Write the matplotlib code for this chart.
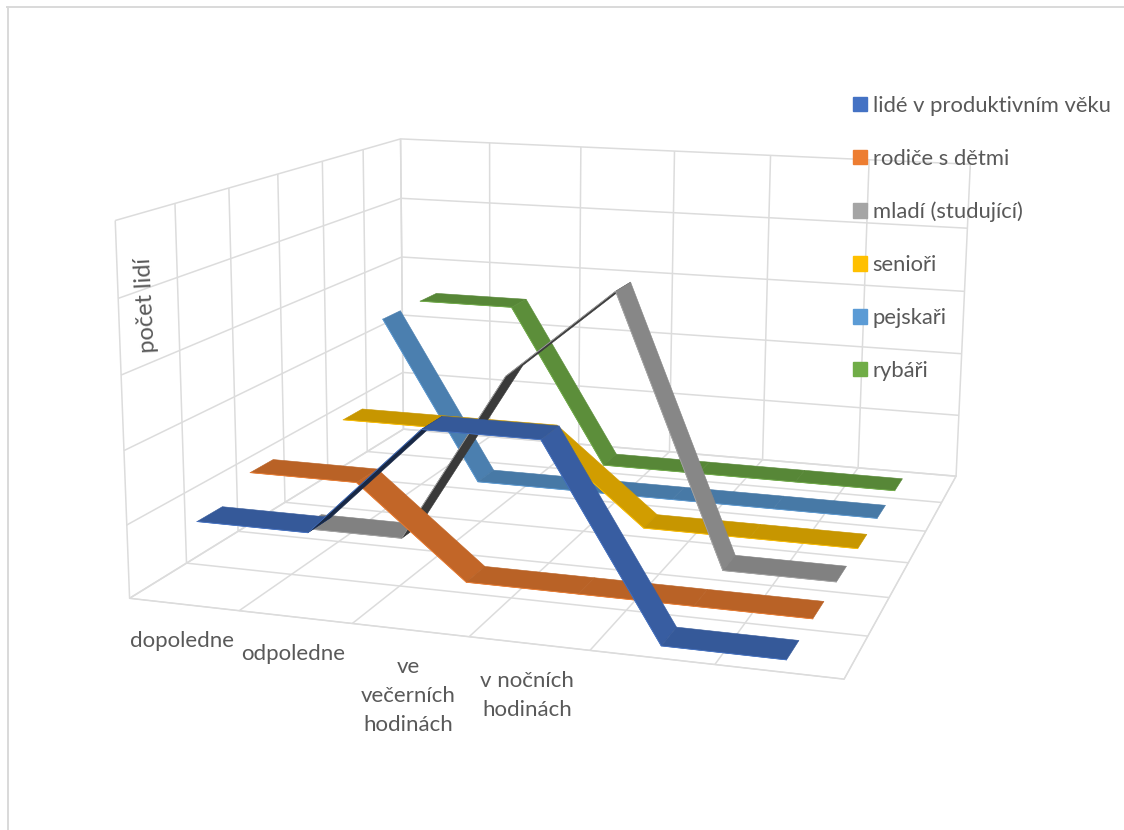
import numpy as np
import matplotlib
matplotlib.use('Agg')
import matplotlib.pyplot as plt
from matplotlib.lines import Line2D
from matplotlib.patches import Patch
from mpl_toolkits.mplot3d import proj3d
from mpl_toolkits.mplot3d.art3d import Poly3DCollection

plt.rcParams['font.family'] = ['Lato', 'DejaVu Sans']
plt.rcParams['grid.color'] = '#DCDCDC'
plt.rcParams['grid.linewidth'] = 1.1

categories = ['dopoledne', 'odpoledne', 've\nvečerních\nhodinách', 'v nočních\nhodinách', '', '']
series_names = ['lidé v produktivním věku', 'rodiče s dětmi', 'mladí (studující)', 'senioři', 'pejskaři', 'rybáři']
lide = [1, 1, 2.5, 2.5, 0, 0]
rodice = [1.25, 1.25, 0, 0, 0, 0]
mladi = [0, 0, 2.5, 3.8, 0, 0]
seniori = [1.25, 1.25, 1.25, 0, 0, 0]
pejskari = [2.5, 0, 0, 0, 0, 0]
rybari = [2.5, 2.5, 0, 0, 0, 0]
colors = ['#4472C4', '#ED7D31', '#A5A5A5', '#FFC000', '#5B9BD5', '#70AD47']
grey = '#595959'

W, H = 1124, 830
fig = plt.figure(figsize=(W / 100, H / 100), dpi=100)

# chart frame, only top and left fall inside the picture
fig.add_artist(Line2D([8 / W, 8 / W], [0, 1 - 7 / H], color='#D9D9D9', lw=1.4))
fig.add_artist(Line2D([7 / W, 1], [1 - 7.5 / H, 1 - 7.5 / H], color='#D9D9D9', lw=1.4))

ax = fig.add_axes([0, 0, 1, 1], projection='3d', computed_zorder=False)
ax.patch.set_alpha(0)
ax.set_xlim(0, 6, view_margin=0)
ax.set_ylim(0, 6, view_margin=0)
ax.set_zlim(0, 5, view_margin=0)

# camera fitted to the corners of the box
ax.view_init(elev=12.355, azim=-72.911, roll=-0.47)
ax.set_proj_type('persp', focal_length=0.416)
ax.set_box_aspect((1, 1.0178, 0.5279))
sc, cx, cy = 5289.0, 584.78, 363.29
vx = ax.viewLim.intervalx
vy = ax.viewLim.intervaly
ax.set_position([(cx + sc * vx[0]) / W, (H - cy + sc * vy[0]) / H,
                 sc * (vx[1] - vx[0]) / W, sc * (vy[1] - vy[0]) / H])

for axis in (ax.xaxis, ax.yaxis, ax.zaxis):
    axis.set_pane_color((1, 1, 1, 0))
    axis.pane.set_edgecolor('#DCDCDC')
    axis._axinfo['tick']['inward_factor'] = 0
    axis._axinfo['tick']['outward_factor'] = 0
    axis.line.set_color('#DCDCDC')
    axis.label.set_visible(False)
    axis.offsetText.set_visible(False)
ax.zaxis.line.set_color((1, 1, 1, 0))
ax.set_xticks(range(7), [''] * 7)
ax.set_yticks(range(7), [''] * 7)
ax.set_zticks(range(6), [''] * 6)

half = 0.23
all_series = [lide, rodice, mladi, seniori, pejskari, rybari]
xpos = np.arange(len(categories)) + 0.5
for i, vals in enumerate(all_series):
    y = i + 0.5
    base = np.array(matplotlib.colors.to_rgb(colors[i]))
    quads = []
    face = []
    for k in range(len(vals) - 1):
        quads.append([(xpos[k], y - half, vals[k]), (xpos[k + 1], y - half, vals[k + 1]),
                      (xpos[k + 1], y + half, vals[k + 1]), (xpos[k], y + half, vals[k])])
        if vals[k + 1] > vals[k]:
            face.append(base * 0.35)
        elif vals[k + 1] < vals[k]:
            face.append(base * 0.82)
        else:
            face.append(base * 0.78)
    ax.add_collection3d(Poly3DCollection(quads, facecolors=face, edgecolors=face, linewidths=0.4, zorder=10 + 6 - i))
    ax.plot(xpos, [y - half] * len(xpos), vals, color=colors[i], lw=0.6, zorder=10 + 6 - i)

# category labels hang just under the front edge of the floor
M = ax.get_proj()
for k, lab in enumerate(categories):
    if lab:
        px, py, _ = proj3d.proj_transform(xpos[k], -0.05, -0.33, M)
        ax.text2D(px, py, lab, transform=ax.transData, ha='center', va='top', fontsize=16, color=grey, linespacing=1.55)

fig.text(146 / W, 1 - 305 / H, 'počet lidí', rotation=93, ha='center', va='center', fontsize=17, color=grey)

handles = [Patch(color=c) for c in colors]
fig.legend(handles, series_names, loc='upper left', bbox_to_anchor=(833 / W, 1 - 76 / H), frameon=False,
           fontsize=15.8, labelcolor=grey, handlelength=0.64, handleheight=0.64, handletextpad=0.27, labelspacing=1.5)

fig.savefig('out.png', dpi=100)
